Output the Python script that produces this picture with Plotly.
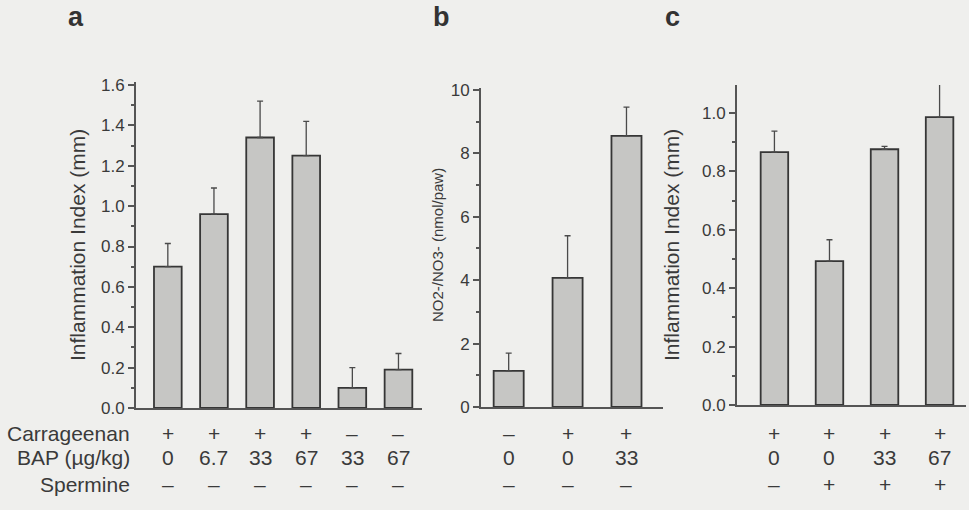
import plotly.graph_objects as go

# ---------------- data ----------------
a_means = [0.70, 0.96, 1.34, 1.25, 0.10, 0.19]
a_err = [0.115, 0.13, 0.18, 0.17, 0.10, 0.08]
a_carr = ["+", "+", "+", "+", "–", "–"]
a_bap = ["0", "6.7", "33", "67", "33", "67"]
a_sperm = ["–", "–", "–", "–", "–", "–"]

b_means = [1.14, 4.07, 8.55]
b_err = [0.56, 1.33, 0.91]
b_carr = ["–", "+", "+"]
b_bap = ["0", "0", "33"]
b_sperm = ["–", "–", "–"]

c_means = [0.866, 0.493, 0.876, 0.986]
c_err = [0.072, 0.073, 0.010, 0.124]
c_carr = ["+", "+", "+", "+"]
c_bap = ["0", "0", "33", "67"]
c_sperm = ["–", "+", "+", "+"]

row_labels = ["Carrageenan", "BAP (µg/kg)", "Spermine"]

# ---------------- style ----------------
BG = "#efefed"
BAR = "#c6c6c4"
EDGE = "#363636"
TXT = "#3a3a3a"
AX = "#555555"
FONT = "Liberation Sans, Arial, sans-serif"
W, H = 969, 510

fig = go.Figure()

panels = [
    (a_means, a_err, "x", "y", 0.60),
    (b_means, b_err, "x2", "y2", 0.51),
    (c_means, c_err, "x3", "y3", 0.50),
]
for means, err, xa, ya, bw in panels:
    n = len(means)
    fig.add_trace(go.Bar(
        x=list(range(n)), y=means, xaxis=xa, yaxis=ya, width=bw,
        marker=dict(color=BAR, line=dict(color=EDGE, width=1.8)),
        error_y=dict(type="data", symmetric=False, array=err,
                     arrayminus=[0] * n, color="#4a4a4a",
                     thickness=1.3, width=3),
        showlegend=False, hoverinfo="skip",
    ))

def px_x(p):
    return p / W

def px_y(p):
    return (H - p) / H

axis_common = dict(showgrid=False, zeroline=False, showline=True,
                   linecolor=AX, linewidth=2, color=TXT, automargin=False,
                   tickfont=dict(family=FONT, size=17, color=TXT))

fig.update_layout(
    width=W, height=H,
    margin=dict(l=0, r=0, t=0, b=0, pad=0, autoexpand=False),
    paper_bgcolor=BG, plot_bgcolor=BG,
    font=dict(family=FONT, color=TXT),
    xaxis=dict(domain=[px_x(136), px_x(422)], range=[-0.69, 5.51],
               showticklabels=False, ticks="", anchor="y", **axis_common),
    yaxis=dict(domain=[px_y(408), px_y(82)], range=[0, 1.615],
               tickvals=[0, 0.2, 0.4, 0.6, 0.8, 1.0, 1.2, 1.4, 1.6],
               tickformat=".1f", ticks="outside", ticklen=6, tickwidth=1.5,
               tickcolor=AX,
               minor=dict(dtick=0.1, ticks="outside", ticklen=3, tickcolor=AX),
               anchor="x", **axis_common),
    xaxis2=dict(domain=[px_x(481), px_x(663)], range=[-0.47, 2.62],
                showticklabels=False, ticks="", anchor="y2", **axis_common),
    yaxis2=dict(domain=[px_y(407), px_y(88)], range=[0, 10.06],
                tickvals=[0, 2, 4, 6, 8, 10], ticks="outside", ticklen=6,
                tickwidth=1.5, tickcolor=AX,
                minor=dict(dtick=1, ticks="outside", ticklen=3, tickcolor=AX),
                anchor="x2", **axis_common),
    xaxis3=dict(domain=[px_x(737), px_x(966)], range=[-0.68, 3.48],
                showticklabels=False, ticks="", anchor="y3", **axis_common),
    yaxis3=dict(domain=[px_y(405), px_y(85)], range=[0, 1.096],
                tickvals=[0, 0.2, 0.4, 0.6, 0.8, 1.0], tickformat=".1f",
                ticks="outside", ticklen=6, tickwidth=1.5, tickcolor=AX,
                minor=dict(dtick=0.1, ticks="outside", ticklen=3, tickcolor=AX),
                anchor="x3", **axis_common),
)

ann = []
# panel letters
for letter, xp in [("a", 76), ("b", 441), ("c", 672)]:
    ann.append(dict(text="<b>%s</b>" % letter, x=px_x(xp), y=px_y(17),
                    xref="paper", yref="paper", xanchor="center",
                    yanchor="middle", showarrow=False,
                    font=dict(family=FONT, size=27, color="#333333")))
# axis titles
for title, xp, size in [("Inflammation Index (mm)", 78, 21),
                        ("NO2-/NO3- (nmol/paw)", 438, 15),
                        ("Inflammation Index (mm)", 672, 21)]:
    ann.append(dict(text=title, x=px_x(xp), y=px_y(245), textangle=-90,
                    xref="paper", yref="paper", xanchor="center",
                    yanchor="middle", showarrow=False,
                    font=dict(family=FONT, size=size, color=TXT)))
# row labels
row_y = [433, 457, 484]
for lab, yp in zip(row_labels, row_y):
    ann.append(dict(text=lab, x=px_x(132), y=px_y(yp), xref="paper", yref="paper",
                    xanchor="right", yanchor="middle", showarrow=False,
                    font=dict(family=FONT, size=21, color=TXT)))
# table values
for xa, rows in [("x", [a_carr, a_bap, a_sperm]),
                 ("x2", [b_carr, b_bap, b_sperm]),
                 ("x3", [c_carr, c_bap, c_sperm])]:
    for ri, (vals, yp) in enumerate(zip(rows, row_y)):
        for i, v in enumerate(vals):
            ann.append(dict(text=v, x=i, y=px_y(yp), xref=xa, yref="paper",
                            xanchor="center", yanchor="middle", showarrow=False,
                            font=dict(family=FONT, size=21, color=TXT)))
fig.update_layout(annotations=ann)

fig.write_html("out.html", config={"displayModeBar": False},
               post_script="document.body.style.margin='0';"
                           "document.body.style.overflow='hidden';")
